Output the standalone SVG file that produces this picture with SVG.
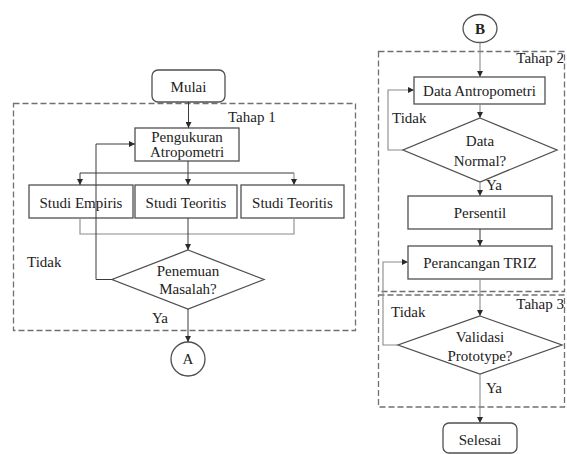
<svg xmlns="http://www.w3.org/2000/svg" width="567" height="454" viewBox="0 0 567 454">
  <style>
    .box { fill: #fff; stroke: #505050; stroke-width: 1.3; }
    .stage { fill: none; stroke: #707070; stroke-width: 1.3; stroke-dasharray: 6 3; }
    .t { font-family: 'Liberation Serif', 'DejaVu Serif', 'Times New Roman', serif; font-size: 15px; fill: #222; }
    .c { text-anchor: middle; }
    .e { text-anchor: end; }
    .ln { fill: none; stroke: #3a3a3a; stroke-width: 1; }
    .lg { fill: none; stroke: #8a8a8a; stroke-width: 1.1; }
  </style>
  <defs>
    <marker id="arr" viewBox="0 0 8 8" refX="8" refY="4" markerWidth="6" markerHeight="6" orient="auto" markerUnits="userSpaceOnUse">
      <path d="M0,0 L8,4 L0,8 Z" fill="#2a2a2a"/>
    </marker>
  </defs>

  <rect width="567" height="454" fill="#fff"/>

  <g font-family="Liberation Serif, DejaVu Serif, serif">
  <!-- stage frames -->
  <g id="stages">
    <rect class="stage" x="13.5" y="103.5" width="342" height="227"/>
    <text class="t" x="228" y="122">Tahap 1</text>
    <rect class="stage" x="378.5" y="51.5" width="186" height="240"/>
    <text class="t e" x="564" y="63">Tahap 2</text>
    <rect class="stage" x="378.5" y="295" width="186" height="112"/>
    <text class="t e" x="564" y="309">Tahap 3</text>
  </g>

  <!-- stage 1 nodes -->
  <g id="mulai">
    <rect class="box" x="152" y="70" width="73" height="32" rx="6"/>
    <text class="t c" x="188.5" y="92">Mulai</text>
  </g>
  <g id="pengukuran">
    <rect class="box" x="135" y="128" width="104" height="33"/>
    <text class="t c" x="187" y="142">Pengukuran</text>
    <text class="t c" x="187" y="157">Atropometri</text>
  </g>
  <g id="studi-empiris">
    <rect class="box" x="29" y="185" width="104" height="33"/>
    <text class="t c" x="81" y="208">Studi Empiris</text>
  </g>
  <g id="studi-teoritis-1">
    <rect class="box" x="135" y="185" width="102" height="33"/>
    <text class="t c" x="186" y="208">Studi Teoritis</text>
  </g>
  <g id="studi-teoritis-2">
    <rect class="box" x="241" y="185" width="103" height="33"/>
    <text class="t c" x="292.5" y="208">Studi Teoritis</text>
  </g>
  <g id="penemuan">
    <polygon class="box" points="188,250 264,279.5 188,309 112,279.5"/>
    <text class="t c" x="188" y="276">Penemuan</text>
    <text class="t c" x="188" y="294">Masalah?</text>
  </g>
  <g id="konektor-a">
    <circle class="box" cx="188" cy="359" r="17"/>
    <text class="t c" x="188" y="364">A</text>
  </g>

  <!-- stage 2 and 3 nodes -->
  <g id="konektor-b">
    <ellipse class="box" cx="480" cy="28.5" rx="17" ry="14"/>
    <text class="t c" x="480" y="33.5" font-weight="bold">B</text>
  </g>
  <g id="data-antropometri">
    <rect class="box" x="414" y="77" width="131" height="27"/>
    <text class="t c" x="479.5" y="96">Data Antropometri</text>
  </g>
  <g id="data-normal">
    <polygon class="box" points="480,118 557,150 480,182 403,150"/>
    <text class="t c" x="480" y="146">Data</text>
    <text class="t c" x="480" y="166">Normal?</text>
  </g>
  <g id="persentil">
    <rect class="box" x="408" y="196" width="144" height="33"/>
    <text class="t c" x="480" y="218">Persentil</text>
  </g>
  <g id="perancangan">
    <rect class="box" x="408" y="246" width="144" height="33"/>
    <text class="t c" x="480" y="268">Perancangan TRIZ</text>
  </g>
  <g id="validasi">
    <polygon class="box" points="480,316 562,345 480,374 398,345"/>
    <text class="t c" x="480" y="342">Validasi</text>
    <text class="t c" x="480" y="361">Prototype?</text>
  </g>
  <g id="selesai">
    <rect class="box" x="443" y="423" width="74" height="30" rx="6"/>
    <text class="t c" x="480" y="445">Selesai</text>
  </g>

  <!-- connectors -->
  <g id="connectors">
    <path class="ln" d="M188.5,102 V128" marker-end="url(#arr)"/>
    <path class="ln" d="M188,161 V185" marker-end="url(#arr)"/>
    <path class="ln" d="M80,173 H294"/>
    <path class="ln" d="M80,173 V185" marker-end="url(#arr)"/>
    <path class="lg" d="M294,173 V185" marker-end="url(#arr)"/>
    <path class="lg" d="M80,218 V234 H294 V218"/>
    <path class="ln" d="M188,218 V250" marker-end="url(#arr)"/>
    <path class="ln" d="M112,279.5 H96 V144 H135" marker-end="url(#arr)"/>
    <path class="ln" d="M188,309 V342" marker-end="url(#arr)"/>

    <path class="lg" d="M480,42.5 V77" marker-end="url(#arr)"/>
    <path class="lg" d="M480,104 V118" marker-end="url(#arr)"/>
    <path class="lg" d="M403,150 H388 V90 H414" marker-end="url(#arr)"/>
    <path class="lg" d="M480,182 V196" marker-end="url(#arr)"/>
    <path class="ln" d="M480,229 V246" marker-end="url(#arr)"/>
    <path class="lg" d="M480,279 V316" marker-end="url(#arr)"/>
    <path class="lg" d="M398,345 H383 V262 H408" marker-end="url(#arr)"/>
    <path class="lg" d="M480,374 V423" marker-end="url(#arr)"/>
  </g>

  <!-- branch labels -->
  <g id="labels">
    <text class="t" x="27" y="267">Tidak</text>
    <text class="t" x="152" y="323">Ya</text>
    <text class="t" x="392" y="123">Tidak</text>
    <text class="t" x="486" y="190">Ya</text>
    <text class="t" x="391" y="317">Tidak</text>
    <text class="t" x="486" y="393">Ya</text>
  </g>
  </g>
</svg>
